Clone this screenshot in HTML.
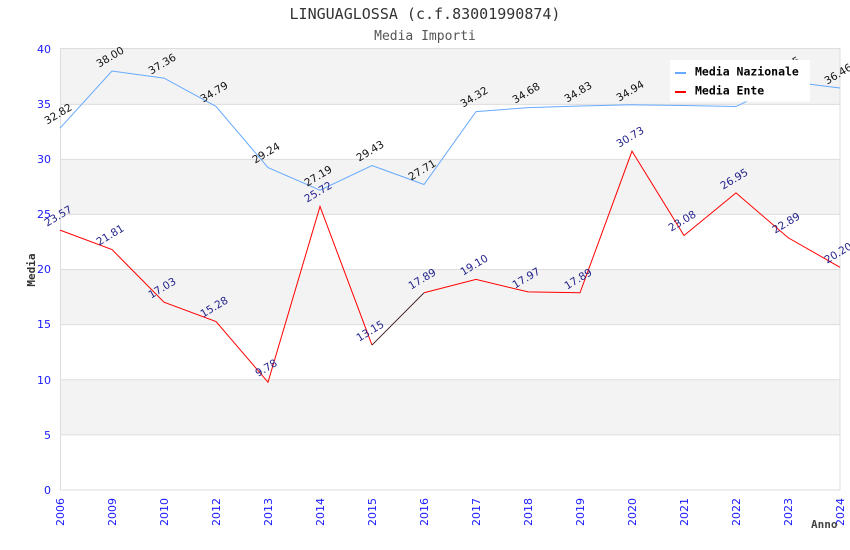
<!DOCTYPE html>
<html><head><meta charset="utf-8"><style>
html,body{margin:0;padding:0;background:#fff;}
svg{display:block;}
.t{font-family:"DejaVu Sans","Liberation Sans",sans-serif;}
.m{font-family:"DejaVu Sans Mono","Liberation Mono",monospace;}
</style></head><body>
<svg width="850" height="550" viewBox="0 0 850 550" xmlns="http://www.w3.org/2000/svg">
<rect x="0" y="0" width="850" height="550" fill="#fff"/>
<!-- bands -->
<rect x="60" y="49" width="780" height="55.1" fill="#f3f3f3"/>
<rect x="60" y="159.4" width="780" height="55.1" fill="#f3f3f3"/>
<rect x="60" y="269.5" width="780" height="55.1" fill="#f3f3f3"/>
<rect x="60" y="379.75" width="780" height="55.1" fill="#f3f3f3"/>
<!-- grid -->
<g stroke="#dddddd" stroke-width="1">
<line x1="60" y1="104.4" x2="840" y2="104.4"/>
<line x1="60" y1="159.4" x2="840" y2="159.4"/>
<line x1="60" y1="214.4" x2="840" y2="214.4"/>
<line x1="60" y1="269.5" x2="840" y2="269.5"/>
<line x1="60" y1="324.6" x2="840" y2="324.6"/>
<line x1="60" y1="379.7" x2="840" y2="379.7"/>
<line x1="60" y1="434.9" x2="840" y2="434.9"/>
</g>
<rect x="60.5" y="48.5" width="779.5" height="441.5" fill="none" stroke="#dddddd" stroke-width="1"/>
<!-- title -->
<text x="425" y="19" text-anchor="middle" class="m" font-size="15" fill="#333">LINGUAGLOSSA (c.f.83001990874)</text>
<text x="425" y="40" text-anchor="middle" class="m" font-size="13" fill="#555">Media Importi</text>
<!-- y ticks -->
<g class="t" font-size="11" fill="#1a1aff" text-anchor="end">
<text x="51" y="53">40</text>
<text x="51" y="108">35</text>
<text x="51" y="163">30</text>
<text x="51" y="218">25</text>
<text x="51" y="273">20</text>
<text x="51" y="328">15</text>
<text x="51" y="384">10</text>
<text x="51" y="439">5</text>
<text x="51" y="494">0</text>
</g>
<text transform="translate(35,270) rotate(-90)" text-anchor="middle" class="m" font-size="11" font-weight="bold" fill="#333">Media</text>
<!-- x ticks -->
<g class="t" font-size="11" fill="#1a1aff" text-anchor="end">
<text transform="translate(64,498) rotate(-90)">2006</text>
<text transform="translate(116,498) rotate(-90)">2009</text>
<text transform="translate(168,498) rotate(-90)">2010</text>
<text transform="translate(220,498) rotate(-90)">2012</text>
<text transform="translate(272,498) rotate(-90)">2013</text>
<text transform="translate(324,498) rotate(-90)">2014</text>
<text transform="translate(376,498) rotate(-90)">2015</text>
<text transform="translate(428,498) rotate(-90)">2016</text>
<text transform="translate(480,498) rotate(-90)">2017</text>
<text transform="translate(532,498) rotate(-90)">2018</text>
<text transform="translate(584,498) rotate(-90)">2019</text>
<text transform="translate(636,498) rotate(-90)">2020</text>
<text transform="translate(688,498) rotate(-90)">2021</text>
<text transform="translate(740,498) rotate(-90)">2022</text>
<text transform="translate(792,498) rotate(-90)">2023</text>
<text transform="translate(844,498) rotate(-90)">2024</text>
</g>
<text x="811" y="528" class="m" font-size="11" font-weight="bold" fill="#444">Anno</text>
<!-- series -->
<polyline fill="none" stroke="#66aaff" stroke-width="1" points="60,128.16 112,71.05 164,78.11 216,106.44 268,167.63 320,190.23 372,165.53 424,184.5 476,111.62 528,107.65 580,106 632,104.79 684,105.56 736,106.55 788,81.53 840,88.03"/>
<polyline fill="none" stroke="#ff0000" stroke-width="1" points="60,230.14 112,249.55 164,302.24 216,321.54 268,382.18 320,206.44 372,345.02"/>
<line x1="372" y1="345.02" x2="424" y2="292.76" stroke="#331111" stroke-width="0.9"/>
<polyline fill="none" stroke="#ff0000" stroke-width="1" points="424,292.76 476,279.42 528,291.88 580,292.76 632,151.2 684,235.54 736,192.88 788,237.64 840,267.29"/>
<!-- labels nazionale -->
<g class="t" font-size="10.5" fill="#111" text-anchor="middle">
<text transform="translate(60,117) rotate(-31)">32.82</text>
<text transform="translate(112,60) rotate(-31)">38.00</text>
<text transform="translate(164,67) rotate(-31)">37.36</text>
<text transform="translate(216,95) rotate(-31)">34.79</text>
<text transform="translate(268,156) rotate(-31)">29.24</text>
<text transform="translate(320,179) rotate(-31)">27.19</text>
<text transform="translate(372,154) rotate(-31)">29.43</text>
<text transform="translate(424,173) rotate(-31)">27.71</text>
<text transform="translate(476,100) rotate(-31)">34.32</text>
<text transform="translate(528,96) rotate(-31)">34.68</text>
<text transform="translate(580,95) rotate(-31)">34.83</text>
<text transform="translate(632,94) rotate(-31)">34.94</text>
<text transform="translate(788,70) rotate(-31)">37.05</text>
<text transform="translate(840,77) rotate(-31)">36.46</text>
</g>
<!-- labels ente -->
<g class="t" font-size="10.5" fill="#22228b" text-anchor="middle">
<text transform="translate(60,219) rotate(-31)">23.57</text>
<text transform="translate(112,238) rotate(-31)">21.81</text>
<text transform="translate(164,291) rotate(-31)">17.03</text>
<text transform="translate(216,310) rotate(-31)">15.28</text>
<text transform="translate(268,371) rotate(-31)">9.78</text>
<text transform="translate(320,195) rotate(-31)">25.72</text>
<text transform="translate(372,334) rotate(-31)">13.15</text>
<text transform="translate(424,282) rotate(-31)">17.89</text>
<text transform="translate(476,268) rotate(-31)">19.10</text>
<text transform="translate(528,281) rotate(-31)">17.97</text>
<text transform="translate(580,282) rotate(-31)">17.89</text>
<text transform="translate(632,140) rotate(-31)">30.73</text>
<text transform="translate(684,224) rotate(-31)">23.08</text>
<text transform="translate(736,182) rotate(-31)">26.95</text>
<text transform="translate(788,226) rotate(-31)">22.89</text>
<text transform="translate(840,256) rotate(-31)">20.20</text>
</g>
<!-- legend -->
<rect x="670" y="60" width="140" height="41.5" fill="#fff"/>
<line x1="675" y1="73" x2="686" y2="73" stroke="#66aaff" stroke-width="2"/>
<line x1="675" y1="92" x2="686" y2="92" stroke="#ff0000" stroke-width="2"/>
<text x="695" y="75.5" class="m" font-size="11.5" font-weight="bold" fill="#000">Media Nazionale</text>
<text x="695" y="94.5" class="m" font-size="11.5" font-weight="bold" fill="#000">Media Ente</text>
</svg>
</body></html>
